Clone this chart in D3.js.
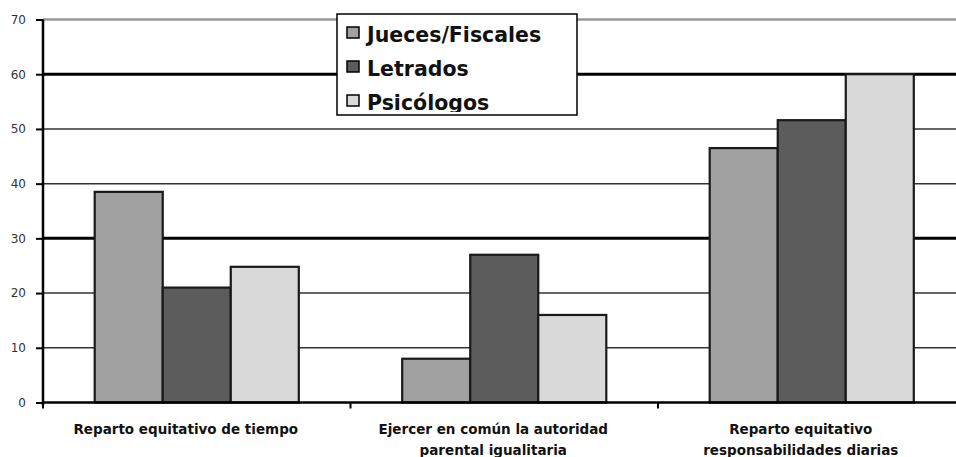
<!DOCTYPE html>
<html>
<head>
<meta charset="utf-8">
<script src="https://cdn.jsdelivr.net/npm/d3@7"></script>
<style>
  html, body { margin: 0; padding: 0; background: #fff; }
  svg { display: block; }
</style>
</head>
<body>
<svg id="chart" width="956" height="457"></svg>
<script>
const categories = ["Reparto equitativo de tiempo", "Ejercer en común la autoridad parental igualitaria", "Reparto equitativo responsabilidades diarias"];
const categoryLines = [["Reparto equitativo de tiempo"], ["Ejercer en común la autoridad", "parental igualitaria"], ["Reparto equitativo", "responsabilidades diarias"]];
const seriesNames = ["Jueces/Fiscales", "Letrados", "Psicólogos"];
const juecesValues = [38.5, 8, 46.5];
const letradosValues = [21, 27, 51.6];
const psicologosValues = [24.8, 16, 60];
const yTicks = [0, 10, 20, 30, 40, 50, 60, 70];
const seriesColors = ["#a1a1a1", "#5c5c5c", "#d9d9d9"];

const seriesValues = [juecesValues, letradosValues, psicologosValues];

const svg = d3.select("#chart");
const x0 = 43, catStep = 307.5;
const x = d3.scaleBand().domain(categories).range([x0, x0 + catStep * categories.length]).padding(0);
const x1 = d3.scaleBand().domain(seriesNames).range([0, x.bandwidth()]).paddingInner(0).paddingOuter(0.76);
const y = d3.scaleLinear().domain([0, 70]).range([402.5, 19.5]);

// gridlines
const grid = svg.append("g");
yTicks.filter(t => t > 0).forEach(t => {
  const thick = (t === 60 || t === 30);
  const top = t === 70;
  grid.append("line")
    .attr("x1", x0).attr("x2", 956)
    .attr("y1", y(t)).attr("y2", y(t))
    .attr("stroke", top ? "#999" : (thick ? "#000" : "#333"))
    .attr("stroke-width", top ? 2.5 : (thick ? 3 : 1.5));
});

// bars
const groups = svg.append("g").selectAll("g")
  .data(categories).join("g")
  .attr("transform", d => `translate(${x(d)},0)`);
groups.selectAll("rect")
  .data((d, i) => seriesNames.map((s, j) => ({ s, j, v: seriesValues[j][i] })))
  .join("rect")
  .attr("x", d => x1(d.s))
  .attr("width", x1.bandwidth())
  .attr("y", d => y(d.v))
  .attr("height", d => y(0) - y(d.v))
  .attr("fill", d => seriesColors[d.j])
  .attr("stroke", "#1a1a1a")
  .attr("stroke-width", 2.2);

// y axis
const yAxis = svg.append("g")
  .attr("transform", `translate(${x0},0)`)
  .call(d3.axisLeft(y).tickValues(yTicks).tickSize(7).tickPadding(10).tickSizeOuter(0));
yAxis.select(".domain").attr("stroke", "#000").attr("stroke-width", 2.5)
  .attr("d", `M0,${y(70)}V${y(0) + 3}`);
yAxis.selectAll(".tick line").attr("stroke", "#000").attr("stroke-width", 2);
yAxis.selectAll(".tick text")
  .attr("font-family", "DejaVu Sans").attr("font-size", 12).attr("fill", "#333");

// x axis line and boundary ticks
svg.append("line")
  .attr("x1", x0).attr("x2", 956)
  .attr("y1", y(0)).attr("y2", y(0))
  .attr("stroke", "#000").attr("stroke-width", 2.5);
const bounds = categories.map(c => x(c));
svg.append("g").selectAll("line").data(bounds).join("line")
  .attr("x1", d => d).attr("x2", d => d)
  .attr("y1", y(0)).attr("y2", y(0) + 6)
  .attr("stroke", "#000").attr("stroke-width", 2);

// category labels
const xAxis = svg.append("g")
  .attr("transform", `translate(-11,${y(0)})`)
  .call(d3.axisBottom(x).tickSize(0).tickPadding(0));
xAxis.select(".domain").remove();
xAxis.selectAll(".tick text").each(function(d, i) {
  const t = d3.select(this);
  t.text(null).attr("y", 0).attr("dy", null)
    .attr("font-family", "DejaVu Sans").attr("font-weight", "bold")
    .attr("font-size", 13.5).attr("fill", "#111");
  categoryLines[i].forEach((line, k) => {
    t.append("tspan").attr("x", 0).attr("y", 31 + k * 21).text(line);
  });
});

// legend
const lg = { x: 337, y: 14, w: 240, h: 101 };
svg.append("clipPath").attr("id", "lgclip")
  .append("rect").attr("x", lg.x).attr("y", lg.y).attr("width", lg.w).attr("height", lg.h - 3);
const legend = svg.append("g");
legend.append("rect")
  .attr("x", lg.x).attr("y", lg.y).attr("width", lg.w).attr("height", lg.h)
  .attr("fill", "#fff");
const items = legend.append("g").attr("clip-path", "url(#lgclip)")
  .selectAll("g").data(seriesNames).join("g")
  .attr("transform", (d, i) => `translate(${lg.x + 10},${lg.y + 13 + i * 34})`);
items.append("rect")
  .attr("width", 12).attr("height", 11)
  .attr("fill", (d, i) => seriesColors[i])
  .attr("stroke", "#000").attr("stroke-width", 1.5);
items.append("text")
  .attr("x", 20).attr("y", 15)
  .attr("font-family", "DejaVu Sans").attr("font-weight", "bold")
  .attr("font-size", 20.5).attr("fill", "#111")
  .text(d => d);
legend.append("rect")
  .attr("x", lg.x).attr("y", lg.y).attr("width", lg.w).attr("height", lg.h)
  .attr("fill", "none").attr("stroke", "#000").attr("stroke-width", 1.5);
</script>
</body>
</html>
